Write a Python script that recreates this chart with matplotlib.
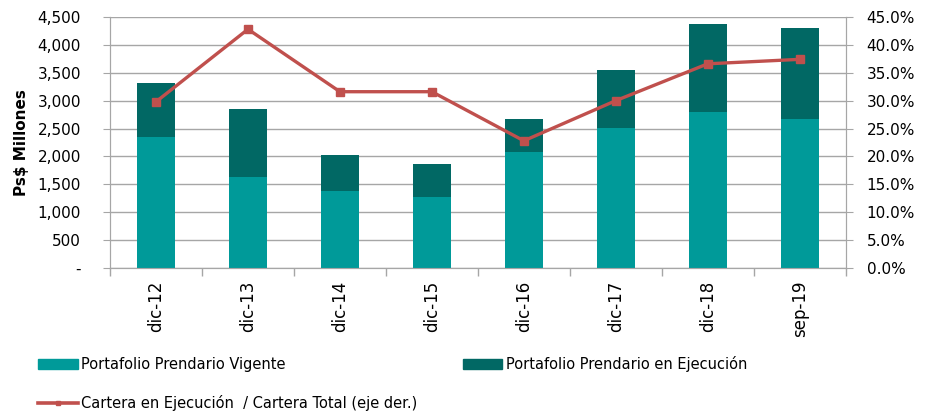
#!/usr/bin/env python
# -*- coding: utf-8 -*-

"""Portafolio prendario: vigente vs en ejecución, con ratio en eje derecho"""

import matplotlib
matplotlib.use('Agg')
import matplotlib.pyplot as plt
from matplotlib.patches import Patch
from matplotlib.lines import Line2D
from matplotlib.ticker import FuncFormatter, FixedLocator
import numpy as np

periods = ['dic-12', 'dic-13', 'dic-14', 'dic-15', 'dic-16', 'dic-17', 'dic-18', 'sep-19']
vigente = [2350, 1625, 1375, 1265, 2075, 2505, 2795, 2670]
total = [3310, 2855, 2020, 1860, 2665, 3545, 4375, 4295]
ratio = [29.8, 42.8, 31.6, 31.6, 22.8, 30.0, 36.6, 37.4]

en_ejecucion = [t - v for t, v in zip(total, vigente)]

COL_VIG = '#009a99'
COL_EJE = '#016864'
COL_LINE = '#c0504d'
GRID = '#a6a6a6'

plt.rcParams['font.family'] = ['DejaVu Sans']

fig = plt.figure(figsize=(9.27, 4.13), dpi=100)
ax = fig.add_axes([0.1187, 0.351, 0.7936, 0.608])
ax2 = ax.twinx()

ind = np.arange(len(periods))
width = 0.41
ax.bar(ind, vigente, width, color=COL_VIG, zorder=3)
ax.bar(ind, en_ejecucion, width, bottom=vigente, color=COL_EJE, zorder=3)

ax2.plot(ind, ratio, '-s', color=COL_LINE, linewidth=2.4, markersize=5.5,
         zorder=4)

ax.set_xlim(-0.5, len(periods) - 0.5)
ax.set_ylim(0, 4500)
ax2.set_ylim(0, 45)

ax.set_yticks(np.arange(0, 4501, 500))
ax.yaxis.set_major_formatter(
    FuncFormatter(lambda v, p: '-' if v == 0 else '{:,.0f}'.format(v)))
ax2.set_yticks(np.arange(0, 45.1, 5))
ax2.yaxis.set_major_formatter(FuncFormatter(lambda v, p: '{:.1f}%'.format(v)))

# ticks at category boundaries, labels at centers
ax.xaxis.set_major_locator(FixedLocator(np.arange(-0.5, len(periods), 1.0)))
ax.xaxis.set_minor_locator(FixedLocator(ind))
ax.set_xticklabels([])
ax.set_xticklabels(periods, minor=True, rotation=90, fontsize=12)
ax.tick_params(axis='x', which='major', length=6, color=GRID, width=1)
ax.tick_params(axis='x', which='minor', length=0, pad=9)

ax.tick_params(axis='y', length=5, color=GRID, labelsize=11, pad=16)
ax2.tick_params(axis='y', length=5, color=GRID, labelsize=11, pad=10)

ax.grid(axis='y', color=GRID, linewidth=1, zorder=0)
ax.set_axisbelow(True)

for a in (ax, ax2):
    a.spines['top'].set_visible(False)
    for s in ('left', 'right', 'bottom'):
        a.spines[s].set_color(GRID)
ax.set_zorder(ax2.get_zorder() - 1)
ax2.patch.set_visible(False)
ax.patch.set_visible(True)

ax.set_ylabel('Ps$ Millones', fontsize=11, fontweight='bold', labelpad=6)

handles = [Patch(color=COL_VIG),
           Line2D([0], [0], color=COL_LINE, linewidth=2.6, marker='s',
                  markersize=3.5),
           Patch(color=COL_EJE)]
labels = ['Portafolio Prendario Vigente',
          'Cartera en Ejecución  / Cartera Total (eje der.)',
          'Portafolio Prendario en Ejecución']
fig.legend(handles, labels, ncol=2, loc='upper left',
           bbox_to_anchor=(0.035, 0.152), frameon=False, fontsize=10.5,
           handlelength=2.7, handleheight=0.7, handletextpad=0.25,
           labelspacing=1.55, columnspacing=3.1, borderaxespad=0)

plt.savefig('out.png', dpi=100)
